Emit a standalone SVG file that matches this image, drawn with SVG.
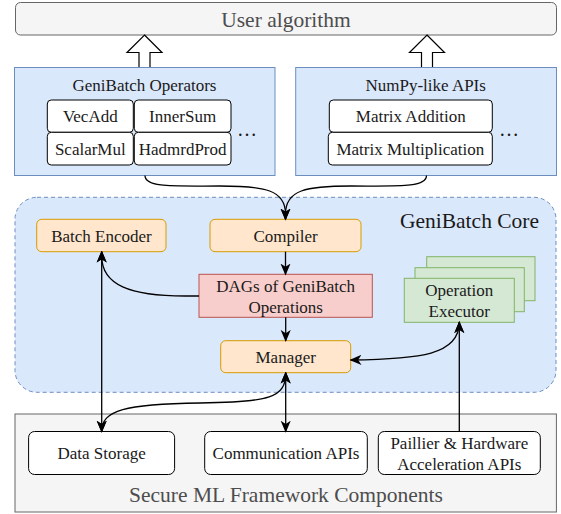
<svg xmlns="http://www.w3.org/2000/svg" width="561" height="514" viewBox="0 0 561 514">
<style>
text{font-family:"Liberation Serif","Times New Roman",serif;fill:#1a1a1a;text-anchor:middle}
.t17{font-size:17px}
.big{font-size:21.5px}
.gray{fill:#f5f5f5;stroke:#666666;stroke-width:1}
.blue{fill:#dae8fc;stroke:#6c8ebf;stroke-width:1}
.orange{fill:#ffe6cc;stroke:#d79b00;stroke-width:1}
.red{fill:#f8cecc;stroke:#b85450;stroke-width:1}
.green{fill:#d5e8d4;stroke:#82b366;stroke-width:1}
.white{fill:#ffffff;stroke:#000000;stroke-width:1}
.edge{fill:none;stroke:#000000;stroke-width:1.3}
.blk{fill:#ffffff;stroke:#000000;stroke-width:1.2}
</style>
<defs>
<marker id="arr" markerUnits="userSpaceOnUse" markerWidth="12" markerHeight="12" viewBox="0 0 10 10" refX="9" refY="5" orient="auto-start-reverse">
<path d="M0,0.8 L10,5 L0,9.2 L2.8,5 Z" fill="#000"/>
</marker>
</defs>

<g id="user-algorithm">
<rect class="gray" x="15.5" y="2.5" width="541" height="32.5" rx="5"/>
<text class="big" x="286" y="26.5" style="fill:#4d4d4d">User algorithm</text>
</g>

<g id="block-arrow-left">
<polygon class="blk" points="144.5,35 162,52.5 150,52.5 150,67.5 139,67.5 139,52.5 127,52.5"/>
</g>
<g id="block-arrow-right">
<polygon class="blk" points="427,35 444.5,52.5 432.5,52.5 432.5,67.5 421.5,67.5 421.5,52.5 409.5,52.5"/>
</g>

<g id="genibatch-operators">
<rect class="blue" x="14.5" y="67.5" width="260.5" height="108"/>
<text class="t17" x="144.5" y="90.5">GeniBatch Operators</text>
<rect class="white" x="47.3" y="100" width="86" height="32.3" rx="4"/>
<text class="t17" x="90.3" y="122">VecAdd</text>
<rect class="white" x="134.3" y="100" width="96.7" height="32.3" rx="4"/>
<text class="t17" x="182.6" y="122">InnerSum</text>
<rect class="white" x="47.3" y="132.3" width="86" height="32.7" rx="4"/>
<text class="t17" x="90.3" y="154.5">ScalarMul</text>
<rect class="white" x="134.3" y="132.3" width="96.7" height="32.7" rx="4"/>
<text class="t17" x="182.6" y="154.5">HadmrdProd</text>
<text x="247" y="135.5" style="font-size:20px">…</text>
</g>

<g id="numpy-like-apis">
<rect class="blue" x="295.7" y="67.5" width="260.8" height="108"/>
<text class="t17" x="425.7" y="90.5">NumPy-like APIs</text>
<rect class="white" x="329.3" y="100" width="163" height="32.3" rx="4"/>
<text class="t17" x="410.8" y="122">Matrix Addition</text>
<rect class="white" x="328.3" y="132.3" width="164" height="32.7" rx="4"/>
<text class="t17" x="410.3" y="154.5">Matrix Multiplication</text>
<text x="509" y="135.5" style="font-size:20px">…</text>
</g>

<g id="genibatch-core">
<rect x="15" y="197.3" width="541" height="195" rx="22" fill="#dae8fc" stroke="#6c8ebf" stroke-width="1" stroke-dasharray="4 3"/>
<text x="469.5" y="228.3" style="font-size:21.5px;">GeniBatch Core</text>
</g>

<g id="batch-encoder">
<rect class="orange" x="36.7" y="219.3" width="129.3" height="32.4" rx="5"/>
<text class="t17" x="101.5" y="241.5">Batch Encoder</text>
</g>

<g id="compiler">
<rect class="orange" x="210" y="219.3" width="151" height="32.4" rx="5"/>
<text class="t17" x="285.5" y="241.5">Compiler</text>
</g>

<g id="dags">
<rect class="red" x="199" y="274.3" width="173.3" height="43"/>
<text class="t17" x="285.7" y="291.5">DAGs of GeniBatch</text>
<text class="t17" x="285.7" y="312.5">Operations</text>
</g>

<g id="manager">
<rect class="orange" x="220.7" y="340.7" width="130" height="32" rx="5"/>
<text class="t17" x="285.7" y="362.7">Manager</text>
</g>

<g id="operation-executor">
<rect class="green" x="426.7" y="256.7" width="108.3" height="44"/>
<rect class="green" x="415" y="267.7" width="109.3" height="44"/>
<rect class="green" x="404.3" y="278.3" width="110" height="44"/>
<text class="t17" x="459.3" y="296">Operation</text>
<text class="t17" x="459.3" y="317">Executor</text>
</g>

<g id="secure-ml-framework">
<rect class="gray" x="15" y="414" width="541.4" height="98"/>
<text class="big" x="286" y="502" style="fill:#4d4d4d">Secure ML Framework Components</text>
</g>

<g id="data-storage">
<rect class="white" x="28.6" y="431.5" width="146" height="43" rx="6"/>
<text class="t17" x="101.6" y="459">Data Storage</text>
</g>

<g id="communication-apis">
<rect class="white" x="204.7" y="431.5" width="162.6" height="43" rx="6"/>
<text class="t17" x="286" y="459">Communication APIs</text>
</g>

<g id="paillier">
<rect class="white" x="378.3" y="431.5" width="162" height="43" rx="6"/>
<text class="t17" x="459.3" y="448.5">Paillier &amp; Hardware</text>
<text class="t17" x="459.3" y="469.5">Acceleration APIs</text>
</g>

<g id="connectors">
<path class="edge" d="M145,175.5 C145,188 175,186 220,186 C265,186 285.5,190 285.5,214 L285.5,219.3" marker-end="url(#arr)"/>
<path class="edge" d="M426.5,175.5 C426.5,188 396,186 351,186 C306,186 285.5,190 285.5,214 L285.5,219.3" marker-end="url(#arr)"/>
<path class="edge" d="M285.5,251.7 L285.5,274.3" marker-end="url(#arr)"/>
<path class="edge" d="M285.7,317.3 L285.7,340.7" marker-end="url(#arr)"/>
<path class="edge" d="M199,296 L185,296 C130,296 101.7,285 101.7,256 L101.7,251.7" marker-end="url(#arr)"/>
<path class="edge" d="M101.7,251.7 L101.7,431.5" marker-start="url(#arr)" marker-end="url(#arr)"/>
<path class="edge" d="M285.7,372.7 C285.7,398 270,402 200,403 C125,404 101.7,410 101.7,431.5" marker-start="url(#arr)" marker-end="url(#arr)"/>
<path class="edge" d="M285.7,372.7 L285.7,431.5" marker-start="url(#arr)" marker-end="url(#arr)"/>
<path class="edge" d="M459.3,431.5 L459.3,322.3" marker-end="url(#arr)"/>
<path class="edge" d="M459.3,322.3 C459.3,355 420,359 350.7,360" marker-start="url(#arr)" marker-end="url(#arr)"/>
</g>
</svg>
